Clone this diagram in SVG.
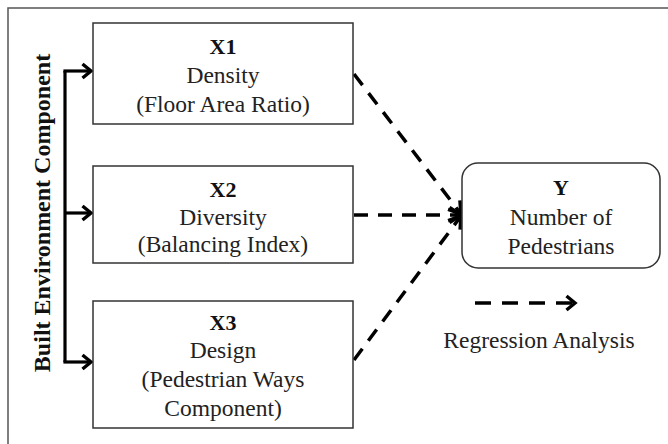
<svg xmlns="http://www.w3.org/2000/svg" width="668" height="444" viewBox="0 0 668 444">
<defs>
<style>
.box{fill:#fff;stroke:#333;stroke-width:1.5}
.t{font-family:"Liberation Serif","Times New Roman",serif;font-size:23.5px;fill:#222;text-anchor:middle}
.b{font-weight:bold;font-size:22px;fill:#111}
.vt{font-family:"Liberation Serif","Times New Roman",serif;font-size:24px;font-weight:bold;fill:#111;text-anchor:middle}
.solid{stroke:#000;stroke-width:3.2;fill:none}
.dash{stroke:#000;stroke-width:3.5;fill:none;stroke-dasharray:14 10}
</style>
<marker id="arr" markerUnits="userSpaceOnUse" markerWidth="14" markerHeight="18" refX="10" refY="8" orient="auto" overflow="visible">
<path d="M1.5,1 L10,8 L1.5,15" fill="none" stroke="#000" stroke-width="3.4" stroke-dasharray="none"/>
</marker>
<marker id="arrd" markerUnits="userSpaceOnUse" markerWidth="16" markerHeight="20" refX="13" refY="9" orient="auto" overflow="visible">
<path d="M1.5,1.5 L13,9 L1.5,16.5" fill="none" stroke="#000" stroke-width="3.6" stroke-dasharray="none"/>
</marker>
</defs>
<rect width="668" height="444" fill="#fff"/>
<path d="M8,444 L8,8 L668,8" fill="none" stroke="#555" stroke-width="1.5"/>
<text class="vt" transform="translate(50,213) rotate(-90)">Built Environment Component</text>
<g id="connectors">
<path class="solid" d="M65,71 L65,362"/>
<path class="solid" d="M63.4,71 L91,71" marker-end="url(#arr)"/>
<path class="solid" d="M65,213 L91,213" marker-end="url(#arr)"/>
<path class="solid" d="M63.4,362 L91,362" marker-end="url(#arr)"/>
<path class="dash" d="M354,74 L461,214" marker-end="url(#arrd)"/>
<path class="dash" d="M354,215 L461,215" marker-end="url(#arrd)"/>
<path class="dash" d="M354,360 L461,216" marker-end="url(#arrd)"/>
</g>
<g id="x1">
<rect class="box" x="93" y="23" width="260" height="101"/>
<text class="t b" x="223" y="54">X1</text>
<text class="t" x="223" y="83">Density</text>
<text class="t" x="223" y="112">(Floor Area Ratio)</text>
</g>
<g id="x2">
<rect class="box" x="93" y="166" width="260" height="97"/>
<text class="t b" x="223" y="197">X2</text>
<text class="t" x="223" y="225">Diversity</text>
<text class="t" x="223" y="252">(Balancing Index)</text>
</g>
<g id="x3">
<rect class="box" x="93" y="301" width="260" height="127"/>
<text class="t b" x="223" y="330">X3</text>
<text class="t" x="223" y="358">Design</text>
<text class="t" x="223" y="387">(Pedestrian Ways</text>
<text class="t" x="223" y="416">Component)</text>
</g>
<g id="y">
<rect class="box" x="462" y="163" width="198" height="105" rx="16" ry="16"/>
<text class="t b" x="561" y="195">Y</text>
<text class="t" x="561" y="225">Number of</text>
<text class="t" x="561" y="254">Pedestrians</text>
</g>
<g id="legend">
<path class="dash" d="M475,303 L575,303" style="stroke-dasharray:16 11" marker-end="url(#arr)"/>
<text class="t" x="539" y="348">Regression Analysis</text>
</g>
</svg>
